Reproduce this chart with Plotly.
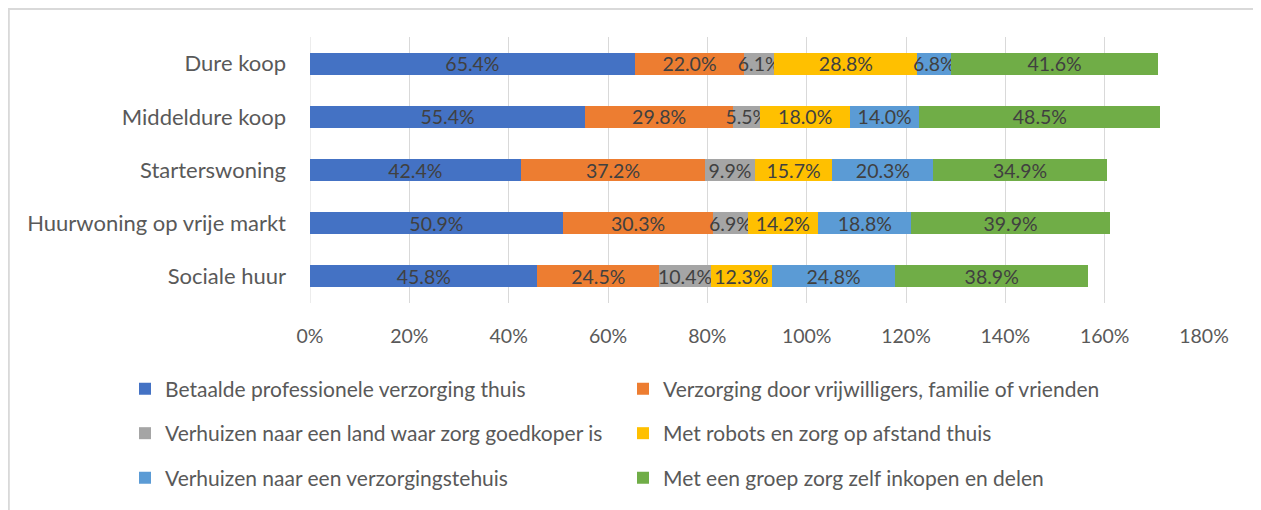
import plotly.graph_objects as go

categories = ["Dure koop", "Middeldure koop", "Starterswoning", "Huurwoning op vrije markt", "Sociale huur"]

series_names = [
    "Betaalde professionele verzorging thuis",
    "Verzorging door vrijwilligers, familie of vrienden",
    "Verhuizen naar een land waar zorg goedkoper is",
    "Met robots en zorg op afstand thuis",
    "Verhuizen naar een verzorgingstehuis",
    "Met een groep zorg zelf inkopen en delen",
]

betaalde_professionele = [65.4, 55.4, 42.4, 50.9, 45.8]
vrijwilligers_familie = [22.0, 29.8, 37.2, 30.3, 24.5]
land_goedkoper = [6.1, 5.5, 9.9, 6.9, 10.4]
robots_afstand = [28.8, 18.0, 15.7, 14.2, 12.3]
verzorgingstehuis = [6.8, 14.0, 20.3, 18.8, 24.8]
groep_inkopen = [41.6, 48.5, 34.9, 39.9, 38.9]

series_values = [betaalde_professionele, vrijwilligers_familie, land_goedkoper,
                 robots_afstand, verzorgingstehuis, groep_inkopen]

colors = ["#4472C4", "#ED7D31", "#A5A5A5", "#FFC000", "#5B9BD5", "#70AD47"]
legend_ids = ["legend", "legend", "legend2", "legend2", "legend3", "legend3"]

x_tick_vals = [0, 0.2, 0.4, 0.6, 0.8, 1.0, 1.2, 1.4, 1.6, 1.8]
x_tick_text = ["0%", "20%", "40%", "60%", "80%", "100%", "120%", "140%", "160%", "180%"]

FONT = "Lato"
TXT = "#595959"

fig = go.Figure()
for name, vals, col, lg in zip(series_names, series_values, colors, legend_ids):
    fig.add_trace(go.Bar(
        y=categories,
        x=[v / 100 for v in vals],
        name=name,
        orientation="h",
        marker=dict(color=col, line=dict(width=0)),
        text=[f"{v:.1f}%" for v in vals],
        textposition="inside",
        insidetextanchor="middle",
        textangle=0,
        constraintext="none",
        textfont=dict(family=FONT, size=19.5, color="#404040"),
        legend=lg,
    ))

# the page body has an 8px margin; figure coordinates below are page coords - 8
W, H = 1253, 502
L, R, T, B = 302, 57, 29, 204
pw, ph = W - L - R, H - T - B

def px_x(p):
    return (p - L) / pw

def px_y(p):
    return (H - B - p) / ph

legend_common = dict(
    orientation="h",
    entrywidth=453,
    entrywidthmode="pixels",
    font=dict(family=FONT, size=21, color=TXT),
    xanchor="left",
    yanchor="middle",
    bgcolor="rgba(0,0,0,0)",
    itemclick=False,
    traceorder="normal",
)

fig.update_layout(
    width=W, height=H,
    margin=dict(l=L, r=R, t=T, b=B),
    barmode="stack",
    bargap=0.59,
    paper_bgcolor="white",
    plot_bgcolor="white",
    font=dict(family=FONT, size=18, color=TXT),
    xaxis=dict(
        range=[0, 1.8],
        tickvals=x_tick_vals,
        ticktext=x_tick_text,
        showgrid=True,
        gridcolor="#D9D9D9",
        gridwidth=1,
        zeroline=False,
        showline=False,
        ticks="",
        ticklabelstandoff=19,
        tickfont=dict(family=FONT, size=19.5, color=TXT),
        fixedrange=True,
    ),
    yaxis=dict(
        categoryorder="array",
        categoryarray=categories[::-1],
        showgrid=False,
        zeroline=False,
        showline=False,
        ticks="",
        ticklabelstandoff=23,
        tickfont=dict(family=FONT, size=22, color=TXT),
        fixedrange=True,
    ),
    legend=dict(legend_common, x=px_x(117), y=px_y(385)),
    legend2=dict(legend_common, x=px_x(117), y=px_y(430)),
    legend3=dict(legend_common, x=px_x(117), y=px_y(475)),
    showlegend=True,
    shapes=[
        dict(type="line", xref="x", yref="paper", x0=0, x1=0, y0=0, y1=1,
             line=dict(color="#D9D9D9", width=1), layer="below"),
        dict(type="rect", xref="paper", yref="paper",
             x0=px_x(0.8), x1=px_x(1251.5), y0=px_y(0.8), y1=px_y(530),
             line=dict(color="#D9D9D9", width=2), fillcolor="rgba(0,0,0,0)"),
    ],
)

fig.write_html("out.html")
